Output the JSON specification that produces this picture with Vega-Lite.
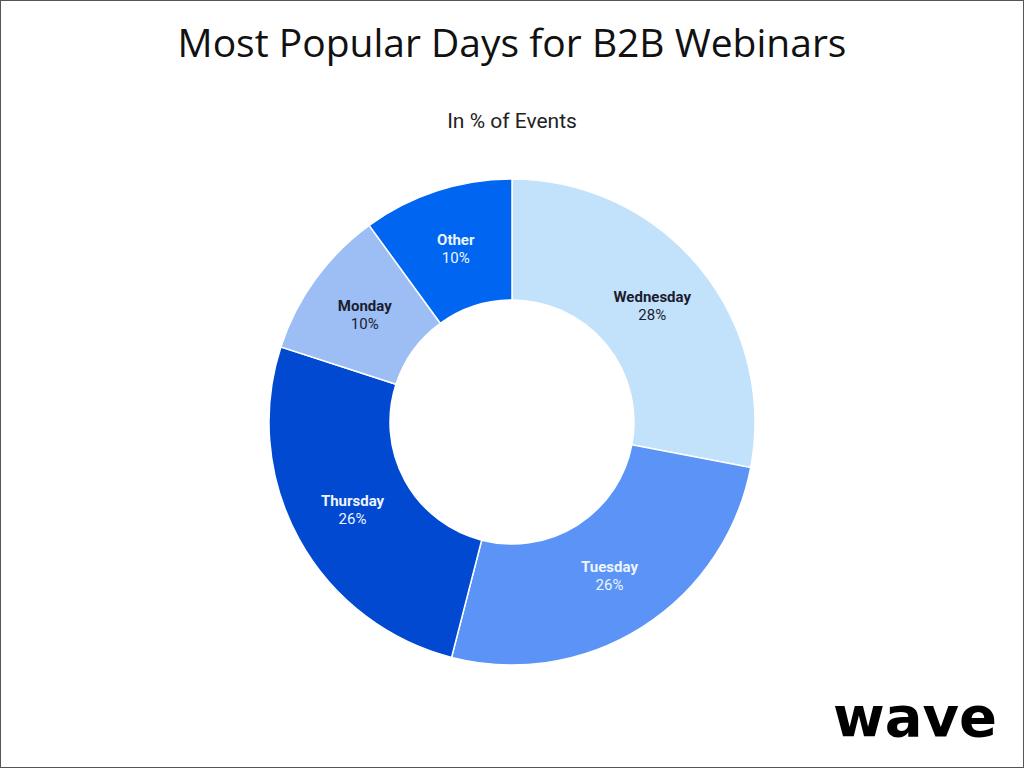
{
  "$schema": "https://vega.github.io/schema/vega-lite/v6.json",
  "autosize": "none",
  "width": 1024,
  "height": 768,
  "padding": 0,
  "background": "white",
  "title": {
    "text": "Most Popular Days for B2B Webinars",
    "subtitle": "In % of Events",
    "anchor": "middle",
    "font": "Open Sans",
    "fontSize": 39,
    "fontWeight": "normal",
    "color": "#111111",
    "subtitleFont": "Roboto",
    "subtitleFontSize": 21,
    "subtitleColor": "#222222",
    "subtitlePadding": 46.5,
    "offset": -132
  },
  "view": {"stroke": "#555555", "strokeWidth": 2},
  "layer": [
    {
      "data": {"name": "d", "values": [
        {"day": "Wednesday", "pct": 28, "label": "28%", "ord": 1},
        {"day": "Tuesday", "pct": 26, "label": "26%", "ord": 2},
        {"day": "Thursday", "pct": 26, "label": "26%", "ord": 3},
        {"day": "Monday", "pct": 10, "label": "10%", "ord": 4},
        {"day": "Other", "pct": 10, "label": "10%", "ord": 5}
      ]},
      "layer": [
        {
          "mark": {"type": "arc", "outerRadius": 243, "innerRadius": 122, "stroke": "white", "strokeWidth": 1.5, "y": {"expr": "height/2 + 38"}},
          "encoding": {
            "theta": {"field": "pct", "type": "quantitative", "stack": true},
            "order": {"field": "ord", "type": "quantitative"},
            "color": {"field": "day", "type": "nominal", "legend": null,
              "scale": {"domain": ["Wednesday", "Tuesday", "Thursday", "Monday", "Other"],
                        "range": ["#c2e1fb", "#5b94f6", "#0049d0", "#9dbdf5", "#0066f1"]}}
          }
        },
        {
          "mark": {"type": "text", "radius": 182, "dy": -9, "font": "Roboto", "fontSize": 15, "fontWeight": "bold", "y": {"expr": "height/2 + 38"}},
          "encoding": {
            "theta": {"field": "pct", "type": "quantitative", "stack": true},
            "order": {"field": "ord", "type": "quantitative"},
            "text": {"field": "day", "type": "nominal"},
            "fill": {"field": "day", "type": "nominal", "legend": null,
              "scale": {"domain": ["Wednesday", "Tuesday", "Thursday", "Monday", "Other"],
                        "range": ["#1a1d2e", "#eef4ff", "#eef4ff", "#1a1d2e", "#eef4ff"]}}
          }
        },
        {
          "mark": {"type": "text", "radius": 182, "dy": 9, "font": "Roboto", "fontSize": 15, "fontWeight": "normal", "y": {"expr": "height/2 + 38"}},
          "encoding": {
            "theta": {"field": "pct", "type": "quantitative", "stack": true},
            "order": {"field": "ord", "type": "quantitative"},
            "text": {"field": "label", "type": "nominal"},
            "fill": {"field": "day", "type": "nominal", "legend": null,
              "scale": {"domain": ["Wednesday", "Tuesday", "Thursday", "Monday", "Other"],
                        "range": ["#1a1d2e", "#eef4ff", "#eef4ff", "#1a1d2e", "#eef4ff"]}}
          }
        }
      ]
    },
    {
      "data": {"values": [{"logo": "wave"}]},
      "mark": {"type": "text", "font": "DejaVu Sans", "fontSize": 56, "fontWeight": "bold", "align": "right", "baseline": "alphabetic", "color": "#000000", "x": {"expr": "width - 27"}, "y": {"expr": "height - 32"}},
      "encoding": {"text": {"field": "logo", "type": "nominal"}}
    }
  ]
}
